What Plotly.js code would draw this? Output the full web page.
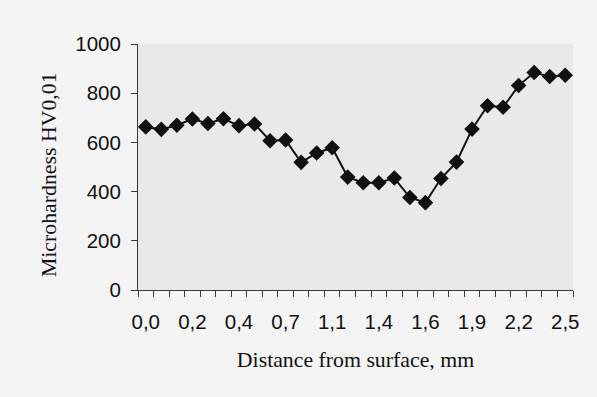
<!DOCTYPE html>
<html>
<head>
<meta charset="utf-8">
<script src="https://cdn.plot.ly/plotly-3.0.1.min.js"></script>
<style>html,body{margin:0;padding:0;background:#f4f4f4;}#chart{width:597px;height:397px;}</style>
</head>
<body>
<div id="chart"></div>
<script>
// Distance from surface, mm (one entry per measurement point)
const distances = [0.0, 0.05, 0.1, 0.2, 0.25, 0.3, 0.4, 0.5, 0.6, 0.7, 0.8, 1.0, 1.1, 1.2,
                   1.3, 1.4, 1.5, 1.55, 1.6, 1.7, 1.8, 1.9, 2.0, 2.1, 2.2, 2.3, 2.4, 2.5];
// Microhardness HV0,01
const hardness = [663, 653, 670, 695, 677, 696, 668, 675, 607, 610, 519, 557, 578, 459,
                  436, 436, 455, 376, 355, 453, 520, 654, 749, 743, 831, 884, 868, 873];
// Every third point carries a label on the category axis
const labelEvery = 3;
const yTicks = [0, 200, 400, 600, 800, 1000];

const idx = distances.map((d, i) => i);
const tickIdx = idx.filter(i => i % labelEvery === 0);
const tickText = tickIdx.map(i => distances[i].toFixed(1).replace('.', ','));

const trace = {
  x: idx,
  y: hardness,
  type: 'scatter',
  mode: 'lines+markers',
  line: {color: '#111111', width: 2},
  marker: {symbol: 'diamond', size: 12, color: '#111111'},
  hoverinfo: 'none',
  showlegend: false
};

const axisColor = '#3a3a3a';
const tickFont = {family: 'Liberation Sans, Arial, sans-serif', size: 20.5, color: '#111'};
const titleFont = {family: 'Liberation Serif, Times New Roman, serif', size: 21.8, color: '#111'};
const layout = {
  width: 597, height: 397,
  paper_bgcolor: '#f4f4f4',
  plot_bgcolor: '#e9e9e9',
  margin: {l: 138, r: 24, t: 44, b: 107},
  xaxis: {
    type: 'linear',
    range: [-0.5, distances.length - 0.5],
    tickmode: 'array',
    tickvals: tickIdx,
    ticktext: tickText,
    ticks: '',
    showgrid: false, zeroline: false,
    showline: true, linecolor: axisColor, linewidth: 1,
    tickfont: tickFont,
    ticklabelstandoff: 13,
    minor: {tickmode: 'linear', tick0: -0.5, dtick: 1, ticks: 'outside', ticklen: 6, tickcolor: axisColor, tickwidth: 1, showgrid: false},
    title: {text: 'Distance from surface, mm', font: titleFont, standoff: 20},
    fixedrange: true
  },
  yaxis: {
    range: [0, 1000],
    tickmode: 'array',
    tickvals: yTicks,
    ticks: 'outside', ticklen: 6, tickcolor: axisColor, tickwidth: 1,
    showgrid: false, zeroline: false,
    showline: true, linecolor: axisColor, linewidth: 1,
    tickfont: tickFont,
    ticklabelstandoff: 6,
    fixedrange: true
  },
  annotations: [{
    text: 'Microhardness HV0,01',
    textangle: -90,
    xref: 'paper', yref: 'paper',
    x: -0.203, y: 0.47,
    xanchor: 'center', yanchor: 'middle',
    showarrow: false,
    font: titleFont
  }]
};

Plotly.newPlot('chart', [trace], layout, {staticPlot: true, displayModeBar: false});
</script>
</body>
</html>
